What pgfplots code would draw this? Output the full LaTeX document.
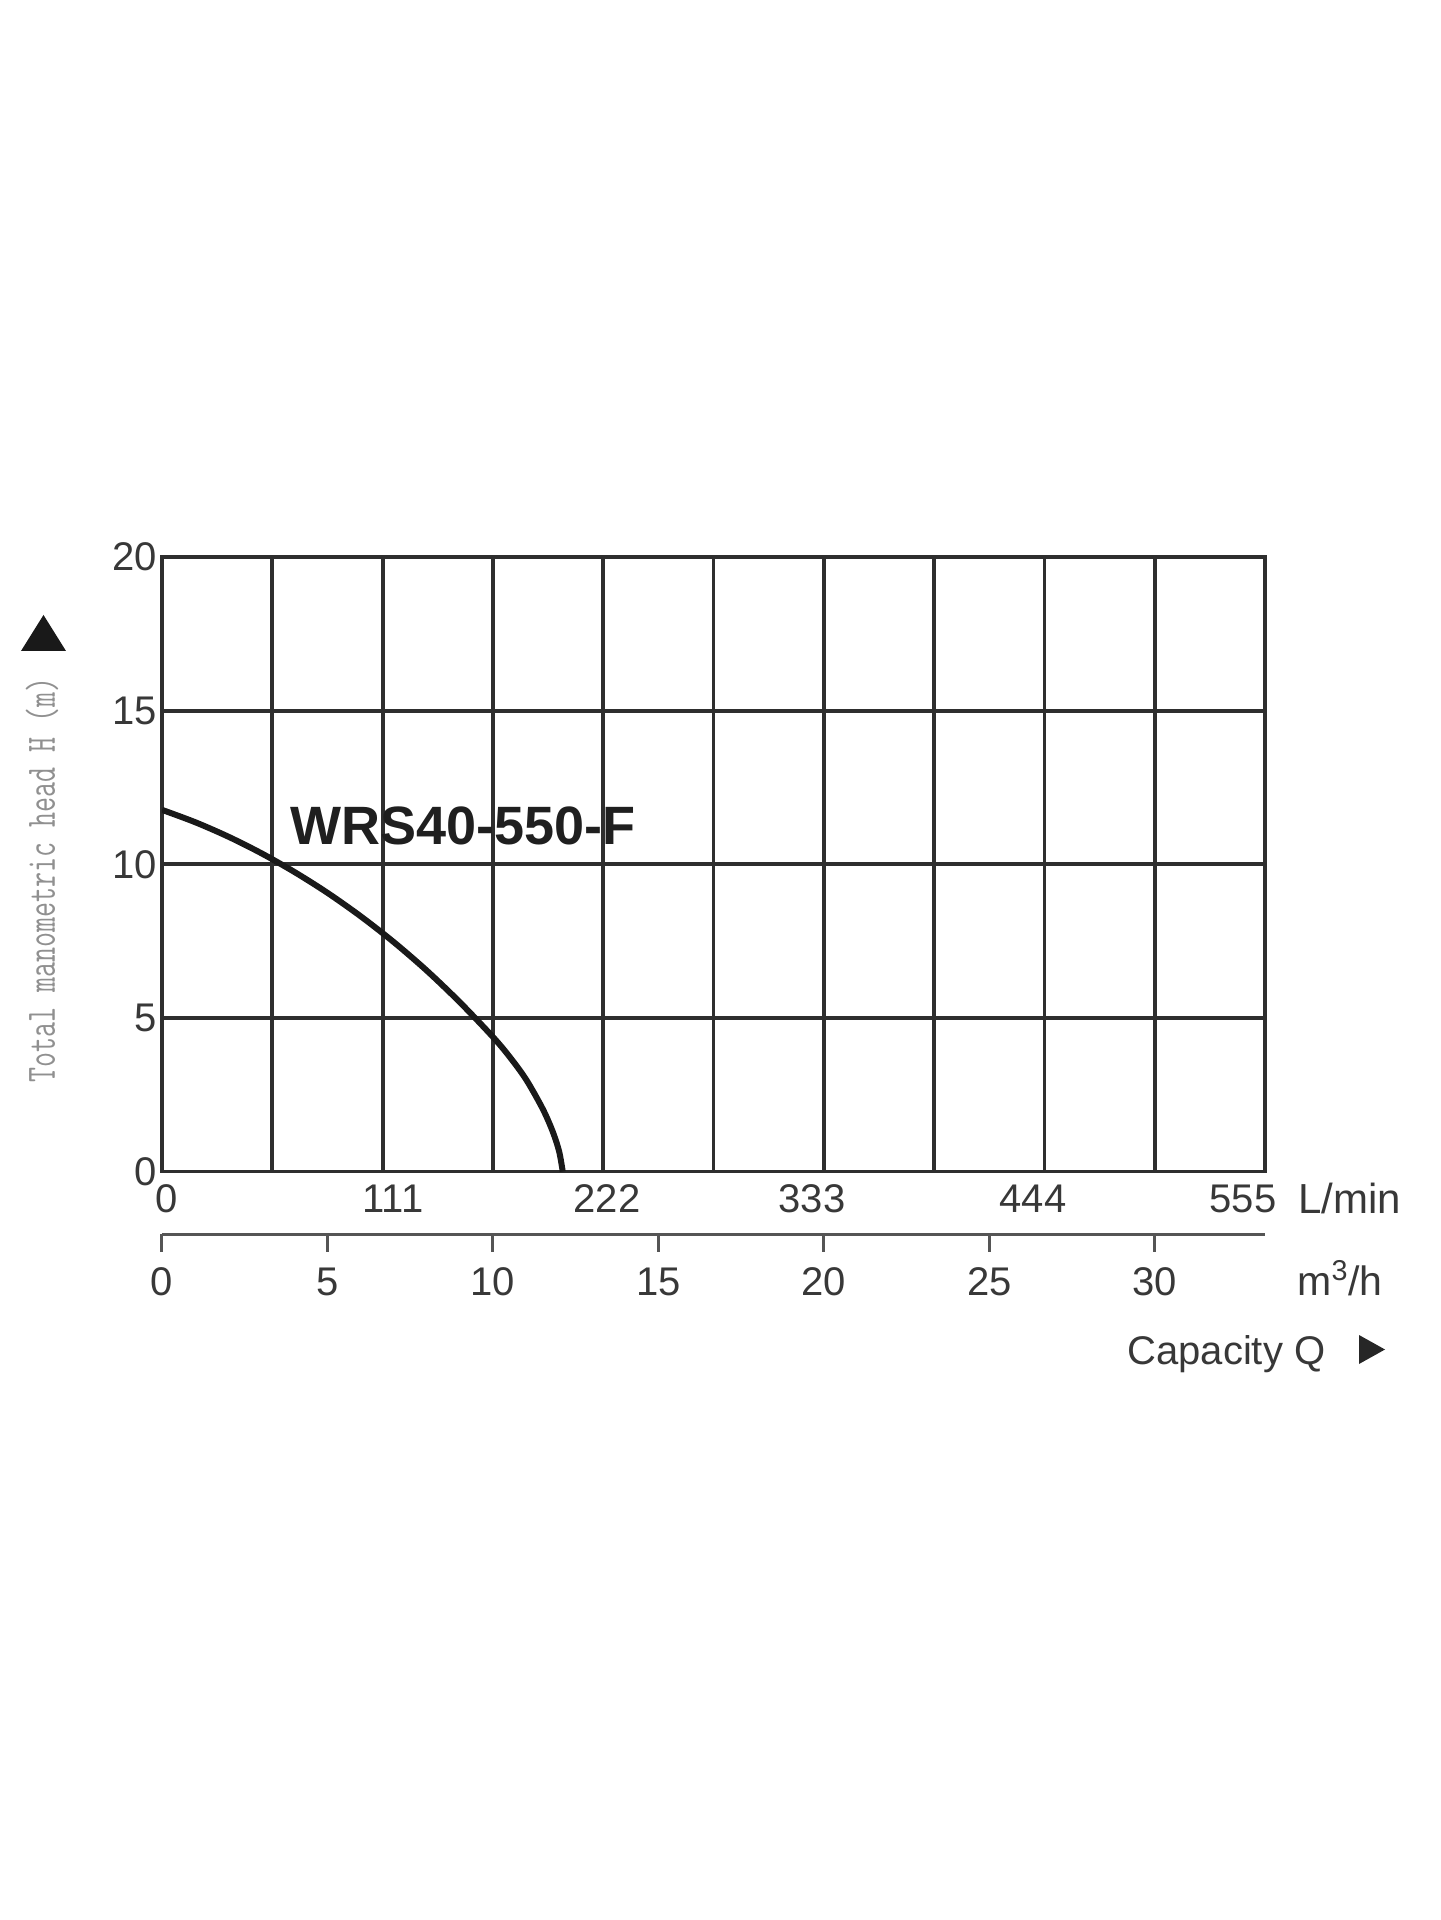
\documentclass[border=0pt]{standalone}
\usepackage{fontspec}
\setmainfont{Liberation Sans}
\usepackage{pgfplots}
\pgfplotsset{compat=1.18}
\definecolor{gridc}{HTML}{2E2E2E}
\definecolor{txt}{HTML}{383838}
\definecolor{ylab}{HTML}{909090}
\definecolor{axc}{HTML}{555555}
\begin{document}
\begin{tikzpicture}
\useasboundingbox (-81pt,-374.25pt) rectangle (639pt,585.75pt);
\begin{axis}[at={(0,0)}, anchor=south west, scale only axis,
  width=551.5pt, height=307.25pt,
  xmin=0, xmax=33.3333, ymin=0, ymax=20,
  axis line style={gridc, line width=1.9pt},
  xtick={0.15,6.98,13.45,19.64,26.32,32.67},
  xticklabels={0,111,222,333,444,555},
  minor xtick={3.3333,6.6667,10,13.3333,16.6667,20,23.3333,26.6667,30},
  ytick={0,5,10,15,20},
  xminorgrids=true, ymajorgrids=true, xmajorgrids=false,
  grid style={gridc, line width=1.9pt},
  minor grid style={gridc, line width=1.9pt},
  major tick length=0pt, minor tick length=0pt,
  tick label style={font=\fontsize{20}{24}\selectfont, text=txt},
  /pgf/number format/assume math mode=true,
  xticklabel style={inner sep=0pt, yshift=-6.3pt},
  yticklabel style={inner sep=0pt, xshift=-2.5pt},
]
\addplot[smooth, line width=3pt, color=black!90] coordinates {
(0,11.77) (1,11.37) (2,10.90) (3,10.36) (4,9.75) (5,9.07) (6,8.31)
(7,7.47) (8,6.54) (9,5.51) (10,4.38) (10.5,3.74) (11,3.0) (11.5,2.05)
(11.8,1.32) (12.0,0.66) (12.11,0)};
\end{axis}
\begin{axis}[at={(0,-31.25pt)}, anchor=south west, scale only axis,
  width=551.5pt, height=1pt,
  xmin=0, xmax=33.3333, ymin=0, ymax=1,
  axis x line*=bottom, hide y axis,
  axis line style={-, axc, line width=1.5pt},
  xtick={0,5,...,30}, tick align=outside, major tick length=9pt,
  xtick style={axc, line width=1.5pt},
  tick label style={font=\fontsize{20}{24}\selectfont, text=txt},
  /pgf/number format/assume math mode=true,
  xticklabel style={inner sep=0pt, yshift=-7.75pt},
]
\addplot[draw=none] coordinates {(0,0) (30,1)};
\end{axis}
\node[anchor=base west, font=\fontsize{21}{24}\selectfont, text=txt, inner sep=0pt] at (568pt,-21pt) {L/min};
\node[anchor=base west, font=\fontsize{20.5}{24}\selectfont, text=txt, inner sep=0pt] at (567.5pt,-62pt) {m\textsuperscript{3}/h};
\node[anchor=base west, font=\fontsize{20}{24}\selectfont, text=txt, inner sep=0pt] at (482.5pt,-96.5pt) {Capacity Q};
\fill[black!85] (598.5pt,-96.25pt) -- (611.5pt,-89pt) -- (598.5pt,-81.75pt) -- cycle;
\fill[black!90] (-70.5pt,260.25pt) -- (-48pt,260.25pt) -- (-59.25pt,278.25pt) -- cycle;
\node[rotate=90, text=ylab, inner sep=0pt] at (-60pt,145.75pt) {\scalebox{0.694}[1]{\ttfamily\fontsize{21}{24}\selectfont Total manometric head H (m)}};
\node[font=\bfseries\fontsize{27}{30}\selectfont, text=black!88] at (150.5pt,173pt) {WRS40-550-F};
\end{tikzpicture}
\end{document}
